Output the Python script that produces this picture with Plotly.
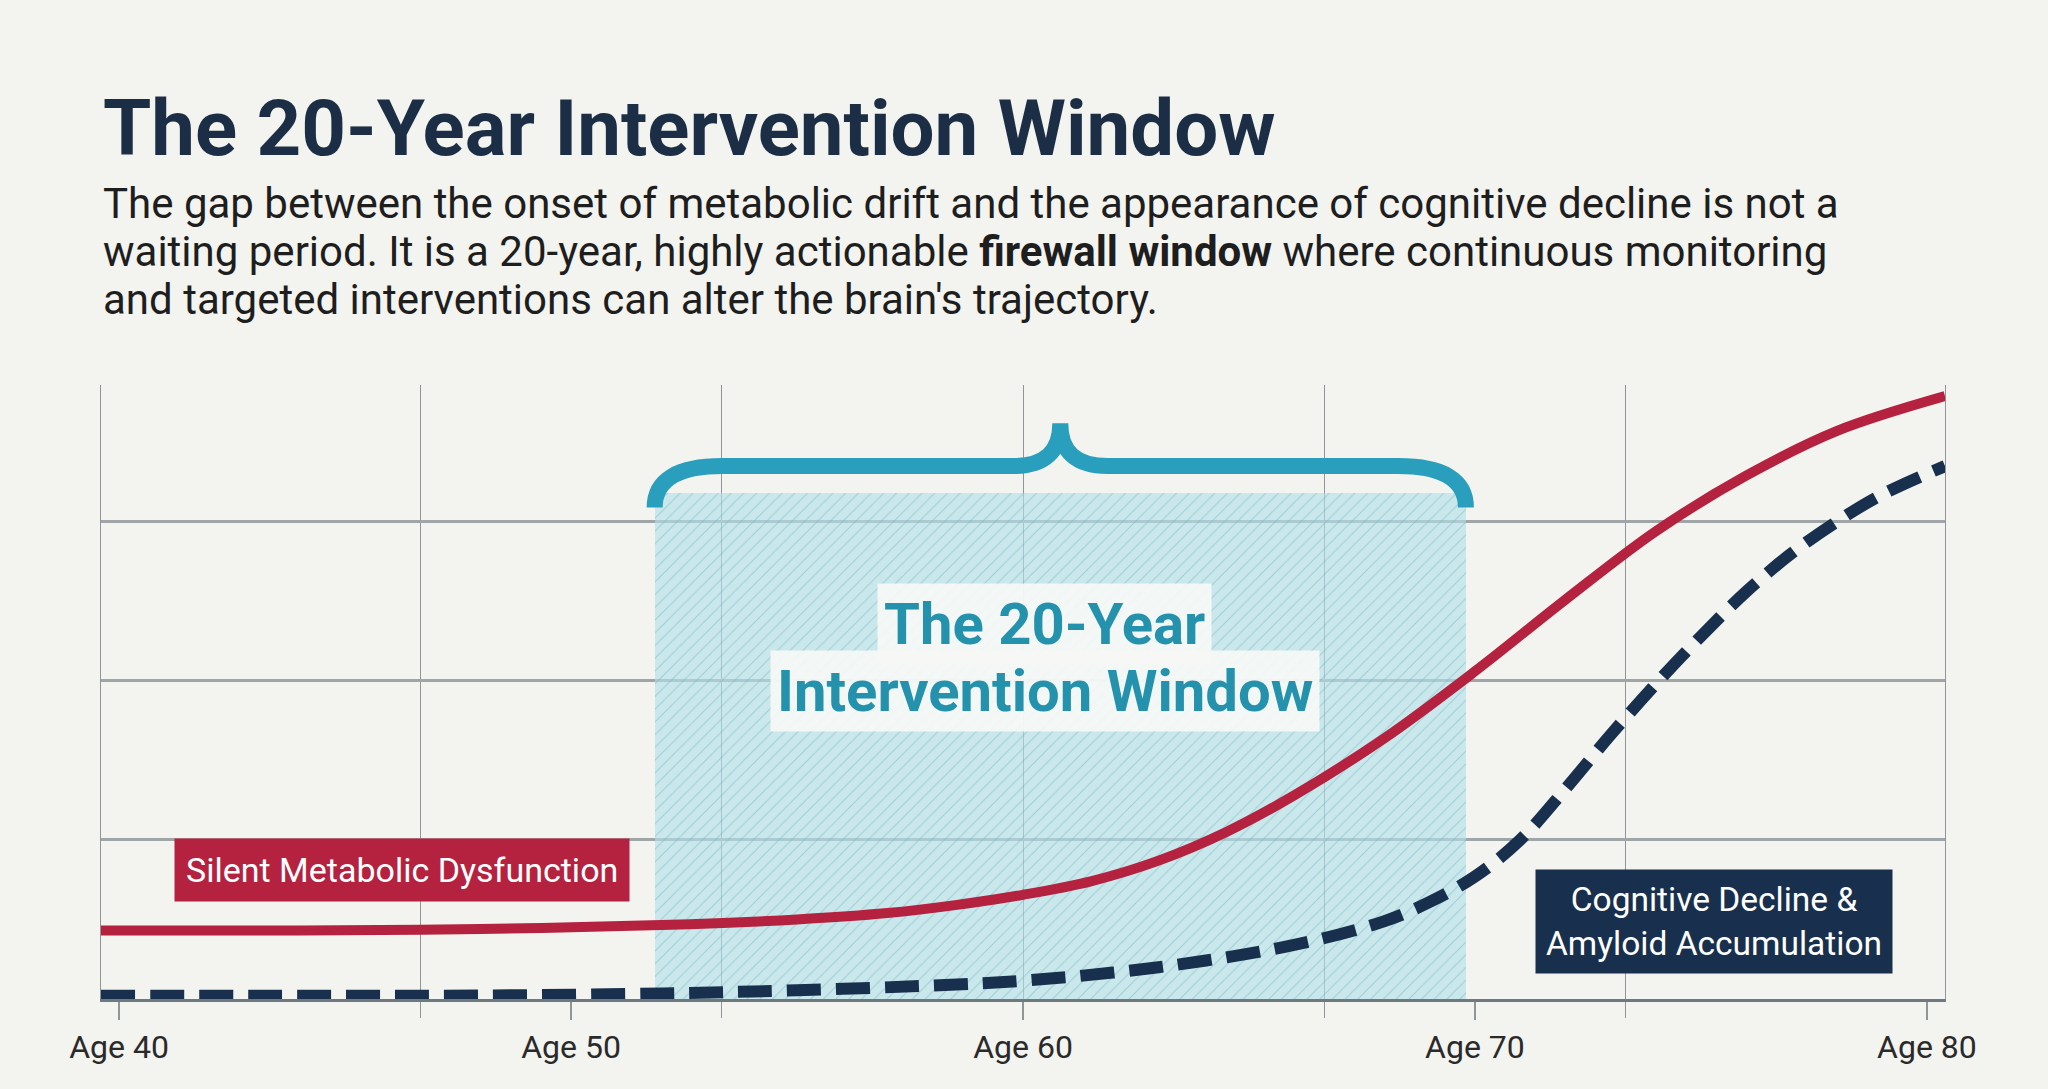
import plotly.graph_objects as go

# ---------------- data ----------------
TITLE = "The 20-Year Intervention Window"
SUBTITLE_LINES = [
    "The gap between the onset of metabolic drift and the appearance of cognitive decline is not a",
    "waiting period. It is a 20-year, highly actionable <b>firewall window</b> where continuous monitoring",
    "and targeted interventions can alter the brain's trajectory.",
]
SUBTITLE_Y = [1.2948, 1.2174, 1.140]

TICK_AGES = [40, 50, 60, 70, 80]
TICK_LABELS = ["Age 40", "Age 50", "Age 60", "Age 70", "Age 80"]
GRID_AGES = [46.67, 53.33, 60, 66.67, 73.33]
GRID_LEVELS = [1, 2, 3]

METABOLIC_AGES = [39.6, 44, 48, 52, 55, 57, 58.5, 60, 61.5, 63, 64.5, 66, 68, 70, 72, 74, 76, 78, 80.4]
METABOLIC = [0.43, 0.43, 0.44, 0.465, 0.50, 0.54, 0.59, 0.655, 0.74, 0.87, 1.05, 1.28, 1.64, 2.06, 2.51,
             2.94, 3.29, 3.57, 3.79]

COGNITIVE_AGES = [39.6, 44, 48, 52, 55, 58, 60, 63, 66, 68, 69, 70, 71, 72, 73, 74, 75, 76, 77, 78, 79,
                  80.4]
COGNITIVE = [0.02, 0.02, 0.022, 0.035, 0.055, 0.085, 0.115, 0.20, 0.34, 0.49, 0.61, 0.77, 1.00, 1.32, 1.66,
             1.98, 2.28, 2.56, 2.80, 3.00, 3.17, 3.35]

WINDOW_START = 51.85
WINDOW_END = 69.8
WINDOW_TOP = 3.18
BRACE_END_Y = 3.09
BRACE_BAR_Y = 3.35
BRACE_PEAK_Y = 3.62

LABEL_METABOLIC = "Silent Metabolic Dysfunction"
LABEL_METABOLIC_POS = (46.26, 0.81)
LABEL_COGNITIVE = "Cognitive Decline &<br>Amyloid Accumulation"
LABEL_COGNITIVE_POS = (75.29, 0.49)
WINDOW_LABEL_LINES = ["The 20-Year", "Intervention Window"]
WINDOW_LABEL_POS = [(60.48, 2.355), (60.48, 1.936)]

X_RANGE = [39.6, 80.4]
Y_RANGE = [0, 3.86]

# ---------------- colours ----------------
BG = "#f3f3ef"
RED = "#b5223f"
NAVY = "#18304d"
TEAL = "#2a9fbd"
TEAL_TEXT = "#2592ad"
GRID = "#8f9598"

FONT = "Roboto"

fig = go.Figure()

# hatched intervention window
fig.add_trace(go.Bar(
    x=[(WINDOW_START + WINDOW_END) / 2],
    y=[WINDOW_TOP],
    base=[0],
    width=[WINDOW_END - WINDOW_START],
    marker=dict(
        color="rgba(175,222,230,0.6)",
        line=dict(width=0),
        pattern=dict(shape="/", fillmode="replace", bgcolor="rgba(178,226,234,0.62)",
                     fgcolor="rgba(110,178,192,0.5)", size=9, solidity=0.12),
    ),
    hoverinfo="skip",
    showlegend=False,
))

fig.add_trace(go.Scatter(
    x=METABOLIC_AGES, y=METABOLIC, mode="lines",
    line=dict(color=RED, width=10, shape="spline", smoothing=1.0),
    showlegend=False, hoverinfo="skip",
))

fig.add_trace(go.Scatter(
    x=COGNITIVE_AGES, y=COGNITIVE, mode="lines",
    line=dict(color=NAVY, width=12, dash="34px,15px", shape="spline", smoothing=1.0),
    showlegend=False, hoverinfo="skip",
))

# brace built from window bounds
x0, x1 = WINDOW_START, WINDOW_END
xc = (x0 + x1) / 2
rx = 1.5
rx2 = 1.05
brace_path = (
    f"M {x0},{BRACE_END_Y} Q {x0},{BRACE_BAR_Y} {x0 + rx},{BRACE_BAR_Y} "
    f"L {xc - rx2},{BRACE_BAR_Y} Q {xc},{BRACE_BAR_Y} {xc},{BRACE_PEAK_Y} "
    f"Q {xc},{BRACE_BAR_Y} {xc + rx2},{BRACE_BAR_Y} "
    f"L {x1 - rx},{BRACE_BAR_Y} Q {x1},{BRACE_BAR_Y} {x1},{BRACE_END_Y}"
)
fig.add_shape(type="path", path=brace_path, xref="x", yref="y",
              line=dict(color=TEAL, width=16))

# title + subtitle
fig.add_annotation(
    text=f"<b>{TITLE}</b>", xref="paper", yref="paper", x=0.0, y=1.418,
    xanchor="left", yanchor="middle", showarrow=False,
    font=dict(family=FONT, size=78, color="#1b2e45"),
)
for line, sy in zip(SUBTITLE_LINES, SUBTITLE_Y):
    fig.add_annotation(
        text=line, xref="paper", yref="paper", x=0.0, y=sy,
        xanchor="left", yanchor="middle", showarrow=False, align="left",
        font=dict(family=FONT, size=42, color="#1e1e1e"),
    )

# labels
fig.add_annotation(
    text=LABEL_METABOLIC, x=LABEL_METABOLIC_POS[0], y=LABEL_METABOLIC_POS[1],
    showarrow=False, bgcolor=RED, borderpad=11,
    font=dict(family=FONT, size=34, color="#ffffff"),
)
fig.add_annotation(
    text=LABEL_COGNITIVE, x=LABEL_COGNITIVE_POS[0], y=LABEL_COGNITIVE_POS[1],
    showarrow=False, bgcolor=NAVY, borderpad=10,
    font=dict(family=FONT, size=33.5, color="#ffffff"),
)
for line, (lx, ly) in zip(WINDOW_LABEL_LINES, WINDOW_LABEL_POS):
    fig.add_annotation(
        text=f"<b>{line}</b>", x=lx, y=ly, showarrow=False,
        bgcolor="rgba(246,248,245,0.93)", borderpad=6,
        font=dict(family=FONT, size=58, color=TEAL_TEXT),
    )

fig.update_layout(
    width=2048, height=1089,
    paper_bgcolor=BG, plot_bgcolor=BG,
    margin=dict(l=101, r=103, t=385, b=90),
    bargap=0,
    xaxis=dict(
        range=X_RANGE, tickmode="array", tickvals=TICK_AGES, ticktext=TICK_LABELS,
        ticks="outside", ticklen=18, tickwidth=1.5, tickcolor=GRID,
        showgrid=False, zeroline=False,
        showline=True, linecolor="#6f7a80", linewidth=3,
        tickfont=dict(family=FONT, size=32, color="#2a2a2a"),
        minor=dict(tickmode="array", tickvals=GRID_AGES, showgrid=True, gridcolor=GRID,
                   gridwidth=1.4, ticks="outside", ticklen=16, tickwidth=1.4, tickcolor=GRID),
        fixedrange=True,
    ),
    yaxis=dict(
        range=Y_RANGE, tickmode="array", tickvals=GRID_LEVELS, showticklabels=False,
        showgrid=True, gridcolor="#a0a6a8", gridwidth=2.5, zeroline=False,
        showline=True, mirror=True, linecolor=GRID, linewidth=1.4, ticks="",
        fixedrange=True,
    ),
)

fig.write_html(
    "out.html",
    config={"displayModeBar": False},
    post_script="document.body.style.margin='0px';document.body.style.overflow='hidden';",
)
